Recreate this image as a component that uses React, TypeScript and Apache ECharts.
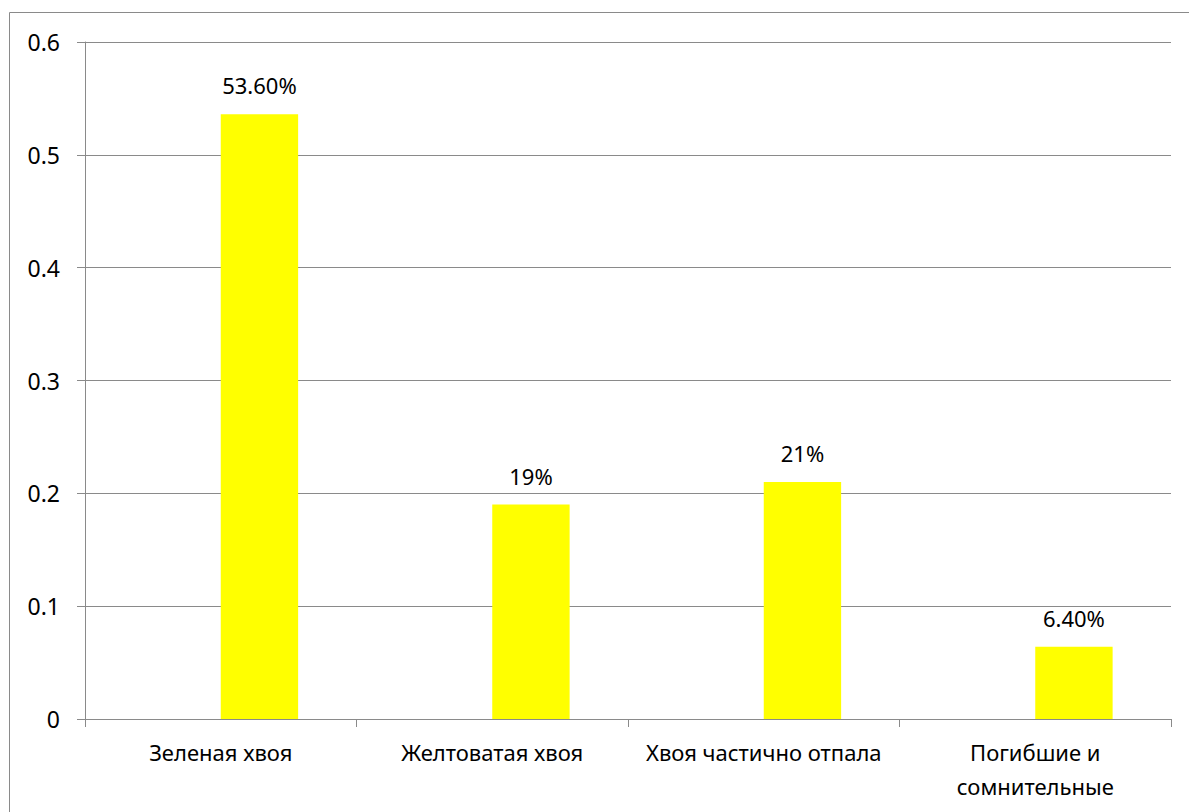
import React, { useEffect, useRef } from "react";
import * as echarts from "echarts";

// Needle condition categories and their shares
const categories = [
  "Зеленая хвоя",
  "Желтоватая хвоя",
  "Хвоя частично отпала",
  "Погибшие и\nсомнительные",
];
const shares = [0.536, 0.19, 0.21, 0.064];
// Empty companion series that keeps the second slot of each cluster
const emptySeries = [null, null, null, null];
const yTicks = { min: 0, max: 0.6, interval: 0.1 };

const FONT = "'Noto Sans', 'DejaVu Sans', sans-serif";
const GRAY = "#8a8a8a";

function formatPercent(v: number): string {
  const p = Math.round(v * 10000) / 100;
  return Number.isInteger(p) ? `${p}%` : `${p.toFixed(2)}%`;
}

export default function App() {
  const ref = useRef<HTMLDivElement>(null);

  useEffect(() => {
    if (!ref.current) return;
    const chart = echarts.init(ref.current, null, { renderer: "svg" });
    chart.setOption({
      animation: false,
      backgroundColor: "#ffffff",
      textStyle: { fontFamily: FONT },
      grid: { left: 85, right: 18, top: 42, bottom: 93, containLabel: false },
      graphic: [
        {
          type: "rect",
          silent: true,
          z: -1,
          shape: { x: 9.5, y: 12.5, width: 1300, height: 1000 },
          style: { fill: "none", stroke: GRAY, lineWidth: 1 },
        },
      ],
      xAxis: {
        type: "category",
        data: categories,
        boundaryGap: true,
        axisLine: { show: true, lineStyle: { color: GRAY, width: 1 } },
        axisTick: {
          show: true,
          alignWithLabel: false,
          length: 8,
          lineStyle: { color: GRAY },
        },
        axisLabel: {
          color: "#000000",
          fontFamily: FONT,
          fontSize: 22,
          lineHeight: 34,
          margin: 16,
          interval: 0,
        },
        splitLine: { show: false },
      },
      yAxis: {
        type: "value",
        min: yTicks.min,
        max: yTicks.max,
        interval: yTicks.interval,
        axisLine: { show: true, lineStyle: { color: GRAY, width: 1 } },
        axisTick: { show: true, length: 8, lineStyle: { color: GRAY } },
        axisLabel: {
          color: "#000000",
          fontFamily: FONT,
          fontSize: 23,
          margin: 25,
          formatter: (v: number) => String(Math.round(v * 10) / 10),
        },
        splitLine: { show: true, lineStyle: { color: GRAY, width: 1 } },
      },
      series: [
        {
          type: "bar",
          name: "empty",
          data: emptySeries,
          barGap: "0%",
          barCategoryGap: "43%",
          itemStyle: { color: "#4f81bd" },
        },
        {
          type: "bar",
          name: "Доля",
          data: shares,
          barGap: "0%",
          barCategoryGap: "43%",
          itemStyle: { color: "#ffff00" },
          label: {
            show: true,
            position: "top",
            distance: 18,
            color: "#000000",
            fontFamily: FONT,
            fontSize: 22,
            formatter: (p: any) => formatPercent(p.value),
          },
        },
      ],
    });
    return () => chart.dispose();
  }, []);

  return (
    <div
      ref={ref}
      style={{ position: "absolute", left: 0, top: 0, width: 1189, height: 812 }}
    />
  );
}
